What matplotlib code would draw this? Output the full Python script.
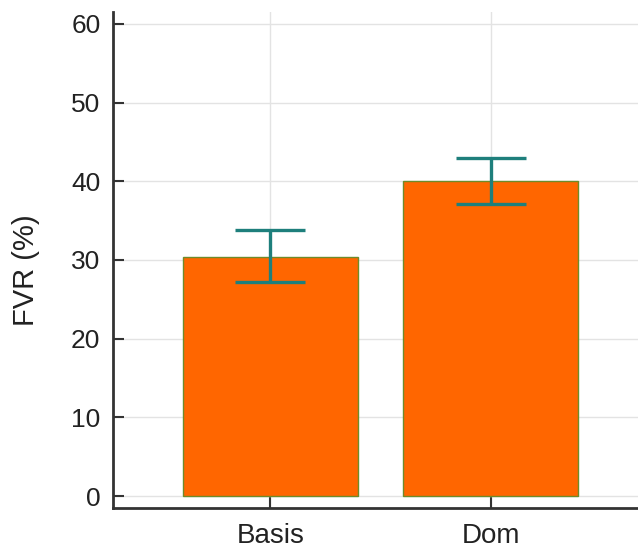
import numpy as np
import matplotlib.pyplot as plt

plt.rcParams['font.family'] = ['Liberation Sans', 'DejaVu Sans']

categories = ['Basis', 'Dom']
fvr = [30.4, 40.0]
err_low = [27.2, 37.1]
err_high = [33.8, 42.9]

x = np.arange(len(categories))
yerr = [np.array(fvr) - np.array(err_low), np.array(err_high) - np.array(fvr)]

fig = plt.figure(figsize=(6.38, 5.52), dpi=100)
ax = fig.add_axes([0.177, 0.08, 0.823, 0.898])

ax.bar(x, fvr, width=0.795, color='#FF6600', edgecolor='#6E8B2A', linewidth=1.0, zorder=2)
ax.errorbar(x, fvr, yerr=yerr, fmt='none', ecolor='#1E7F7C', elinewidth=2.4,
            capsize=25.5, capthick=2.4, zorder=3)

ax.set_xlim(-0.716, 1.67)
ax.set_ylim(-1.5, 61.5)
ax.set_yticks(np.arange(0, 61, 10))
ax.set_xticks(x)
ax.set_xticklabels(categories, fontsize=20, color='#222222')
ax.tick_params(axis='y', labelsize=19, labelcolor='#222222')
ax.tick_params(direction='in', length=8, width=1.5, color='#333333')
ax.tick_params(axis='y', pad=9)
ax.tick_params(axis='x', pad=11)
ax.set_ylabel('FVR (%)', fontsize=21, color='#222222')
ax.yaxis.set_label_coords(-0.138, 0.48)

ax.grid(True, color='#E3E3E3', linewidth=1.0, zorder=0)
ax.set_axisbelow(True)
for s in ['top', 'right']:
    ax.spines[s].set_visible(False)
for s in ['left', 'bottom']:
    ax.spines[s].set_linewidth(2.0)
    ax.spines[s].set_color('#333333')

fig.savefig('out.png', dpi=100)
